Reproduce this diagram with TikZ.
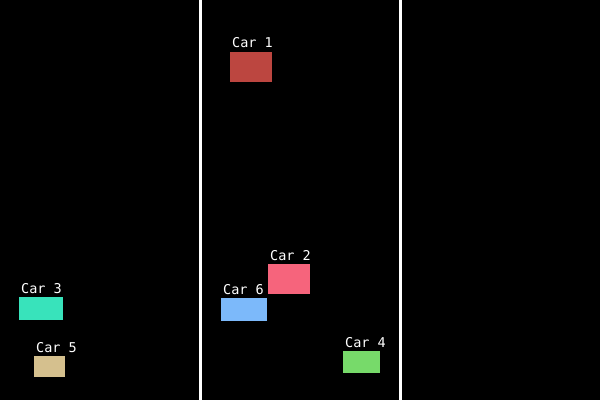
\documentclass[tikz,border=0pt]{standalone}
\usepackage{fontspec}
\setmonofont{DejaVu Sans Mono}
\usetikzlibrary{positioning}

\definecolor{carone}{RGB}{188,70,64}
\definecolor{cartwo}{RGB}{246,100,124}
\definecolor{carthree}{RGB}{56,227,187}
\definecolor{carfour}{RGB}{119,218,106}
\definecolor{carfive}{RGB}{213,192,142}
\definecolor{carsix}{RGB}{124,185,250}

\tikzset{
  car/.style={fill=#1, inner sep=0pt, anchor=north west},
  carlabel/.style={text=white, inner sep=0pt, anchor=base west,
    font=\ttfamily\fontsize{13.5}{14}\selectfont},
  lane/.style={white, line width=3pt}
}

\begin{document}
\begin{tikzpicture}[x=1pt,y=-1pt]
            \useasboundingbox (0,0) rectangle (600,400);
            \fill[black] (0,0) rectangle (600,400);

            % lane markings
            \draw[lane] (200.5,0)--(200.5,400);
            \draw[lane] (400.5,0)--(400.5,400);

            \node[car=carone, minimum width=42pt, minimum height=30pt] (car1) at (230,52) {};
            \node[car=cartwo, minimum width=42pt, minimum height=30pt] (car2) at (268,264) {};
            \node[car=carthree, minimum width=44pt, minimum height=23pt] (car3) at (19,297) {};
            \node[car=carfour, minimum width=37pt, minimum height=22pt] (car4) at (343,351) {};
            \node[car=carfive, minimum width=31pt, minimum height=21pt] (car5) at (34,356) {};
            \node[car=carsix, minimum width=46pt, minimum height=23pt] (car6) at (221,298) {};

            \node[carlabel] (lbl1) at ([xshift=2pt,yshift=5pt]car1.north west) {Car 1};
            \node[carlabel] (lbl2) at ([xshift=2pt,yshift=4pt]car2.north west) {Car 2};
            \node[carlabel] (lbl3) at ([xshift=2pt,yshift=4pt]car3.north west) {Car 3};
            \node[carlabel] (lbl4) at ([xshift=2pt,yshift=4pt]car4.north west) {Car 4};
            \node[carlabel] (lbl5) at ([xshift=2pt,yshift=4pt]car5.north west) {Car 5};
            \node[carlabel] (lbl6) at ([xshift=2pt,yshift=4pt]car6.north west) {Car 6};
\end{tikzpicture}
\end{document}
